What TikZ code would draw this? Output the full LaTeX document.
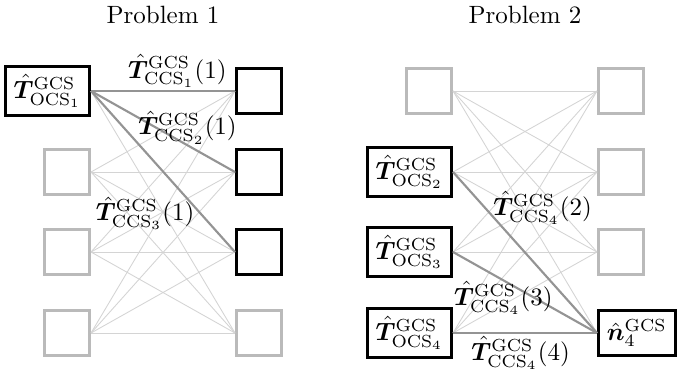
\documentclass[tikz,border=0pt]{standalone}
\usepackage{amsmath,bm}
\tikzset{
  box/.style={draw, line width=1.2pt, minimum size=18pt, inner sep=3.33pt, fill=white},
  idle/.style={box, draw=black!27},
  active/.style={box, draw=black},
  link/.style={draw=black!17, line width=0.35pt},
  chosen/.style={draw=black!42, line width=0.85pt},
  lbl/.style={inner sep=0pt},
  heading/.style={anchor=base}
}
\newcommand{\Tocs}[1]{$\hat{\bm T}^{\mathrm{GCS}}_{\mathrm{OCS}_{#1}}$}
\newcommand{\Tccs}[2]{$\hat{\bm T}^{\mathrm{GCS}}_{\mathrm{CCS}_{#1}}(#2)$}
\begin{document}
\begin{tikzpicture}[x=0.4pt, y=-0.4pt]
\useasboundingbox (0,0) rectangle (690,369);

% ---------- Problem 1 ----------
\node[heading] (t1) at (163,23) {Problem 1};
\node[active, anchor=east] (a1) at (91,91) {\Tocs{1}};
\node[idle, anchor=east] (a2) at (91,172) {};
\node[idle, anchor=east] (a3) at (91,252) {};
\node[idle, anchor=east] (a4) at (91,333) {};
\node[active, anchor=west] (b1) at (235,91) {};
\node[active, anchor=west] (b2) at (235,172) {};
\node[active, anchor=west] (b3) at (235,252) {};
\node[idle, anchor=west] (b4) at (235,333) {};

\foreach \i in {1,...,4}
  \foreach \j in {1,...,4}
    \draw[link] (a\i.east) -- (b\j.west);

\draw[chosen] (a1.east) -- node[lbl, pos=0.6, anchor=south, yshift=1pt] {\Tccs{1}{1}} (b1.west);
\draw[chosen] (a1.east) -- node[lbl, pos=0.67, anchor=south] {\Tccs{2}{1}} (b2.west);
\draw[chosen] (a1.east) -- node[lbl, pos=0.76, anchor=east, xshift=-2pt] {\Tccs{3}{1}} (b3.west);

% ---------- Problem 2 ----------
\node[heading] (t2) at (525,23) {Problem 2};
\node[idle, anchor=east] (c1) at (453,91) {};
\node[active, anchor=east] (c2) at (453,172) {\Tocs{2}};
\node[active, anchor=east] (c3) at (453,252) {\Tocs{3}};
\node[active, anchor=east] (c4) at (453,333) {\Tocs{4}};
\node[idle, anchor=west] (d1) at (597,91) {};
\node[idle, anchor=west] (d2) at (597,172) {};
\node[idle, anchor=west] (d3) at (597,252) {};
\node[active, anchor=west] (d4) at (597,333) {$\hat{\bm n}^{\mathrm{GCS}}_4$};

\foreach \i in {1,...,4}
  \foreach \j in {1,...,4}
    \draw[link] (c\i.east) -- (d\j.west);

\draw[chosen] (c2.east) -- node[lbl, pos=0.224, anchor=west, xshift=2.8pt] {\Tccs{4}{2}} (d4.west);
\draw[chosen] (c3.east) -- node[lbl, pos=0.35, anchor=north] {\Tccs{4}{3}} (d4.west);
\draw[chosen] (c4.east) -- node[lbl, pos=0.47, anchor=north, yshift=-1pt] {\Tccs{4}{4}} (d4.west);
\end{tikzpicture}
\end{document}
